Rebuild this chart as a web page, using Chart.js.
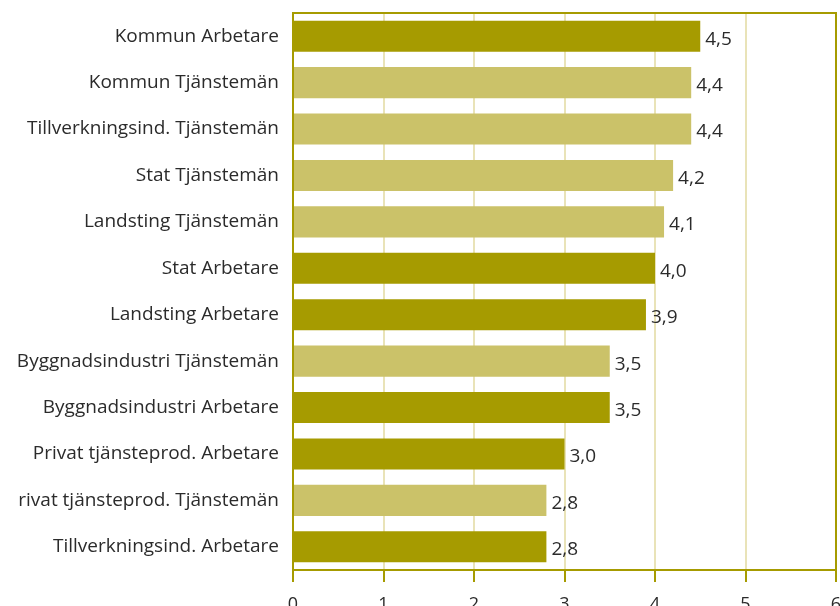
<!DOCTYPE html>
<html>
<head>
<meta charset="utf-8">
<script src="https://cdn.jsdelivr.net/npm/chart.js@4.4.0/dist/chart.umd.min.js"></script>
<style>
  html, body { margin: 0; padding: 0; background: #fff; overflow: hidden; }
  #wrap { width: 850px; height: 640px; }
</style>
</head>
<body>
<div id="wrap"><canvas id="chart"></canvas></div>
<script>
// --- Data ---
const categories = [
    'Kommun Arbetare',
    'Kommun Tjänstemän',
    'Tillverkningsind. Tjänstemän',
    'Stat Tjänstemän',
    'Landsting Tjänstemän',
    'Stat Arbetare',
    'Landsting Arbetare',
    'Byggnadsindustri Tjänstemän',
    'Byggnadsindustri Arbetare',
    'Privat tjänsteprod. Arbetare',
    'rivat tjänsteprod. Tjänstemän',
    'Tillverkningsind. Arbetare'
];
const values = [4.5, 4.4, 4.4, 4.2, 4.1, 4.0, 3.9, 3.5, 3.5, 3.0, 2.8, 2.8];
const xTicks = [0, 1, 2, 3, 4, 5, 6];

// --- Colours ---
const darkGold = '#a69b00';
const lightGold = '#cbc269';
const gridGold = '#e9e3b8';
const textColor = '#2b2b2b';
const barColors = categories.map(c => c.includes('Arbetare') ? darkGold : lightGold);

const fmt = v => v.toFixed(1).replace('.', ',');

// frame round the plot area (top + right)
const frame = {
    id: 'frame',
    afterDraw(chart) {
        const { ctx, chartArea: a } = chart;
        ctx.save();
        ctx.strokeStyle = darkGold;
        ctx.lineWidth = 2;
        ctx.strokeRect(a.left, a.top, a.right - a.left, a.bottom - a.top);
        ctx.restore();
    }
};

// value labels at the end of each bar
const valueLabels = {
    id: 'valueLabels',
    afterDatasetsDraw(chart) {
        const { ctx } = chart;
        const meta = chart.getDatasetMeta(0);
        ctx.save();
        ctx.font = '19px "Open Sans"';
        ctx.fillStyle = textColor;
        ctx.textAlign = 'left';
        ctx.textBaseline = 'middle';
        meta.data.forEach((bar, i) => {
            ctx.fillText(fmt(values[i]), bar.x + 5, bar.y + 3);
        });
        ctx.restore();
    }
};

new Chart(document.getElementById('chart'), {
    type: 'bar',
    data: {
        labels: categories,
        datasets: [{
            data: values,
            backgroundColor: barColors,
            borderWidth: 0,
            barPercentage: 0.67,
            categoryPercentage: 1.0
        }]
    },
    options: {
        indexAxis: 'y',
        responsive: true,
        maintainAspectRatio: false,
        animation: false,
        layout: { padding: { top: 13, right: 14, bottom: 0, left: 0 } },
        plugins: { legend: { display: false }, tooltip: { enabled: false } },
        scales: {
            x: {
                min: 0,
                max: 6,
                afterBuildTicks: s => { s.ticks = xTicks.map(v => ({ value: v })); },
                afterFit: s => { s.height = 70; s.paddingLeft = 0; s.paddingRight = 0; },
                grid: {
                    color: gridGold,
                    lineWidth: 2,
                    tickColor: darkGold,
                    tickLength: 12,
                    drawOnChartArea: true
                },
                border: { color: darkGold, width: 2 },
                ticks: {
                    color: textColor,
                    font: { family: 'Open Sans', size: 18 },
                    padding: 12
                }
            },
            y: {
                afterFit: s => { s.width = 293; s.paddingTop = 0; s.paddingBottom = 0; },
                grid: { display: false },
                border: { color: darkGold, width: 2 },
                ticks: {
                    color: textColor,
                    font: { family: 'Open Sans', size: 19 },
                    padding: 6
                }
            }
        }
    },
    plugins: [frame, valueLabels]
});
</script>
</body>
</html>
